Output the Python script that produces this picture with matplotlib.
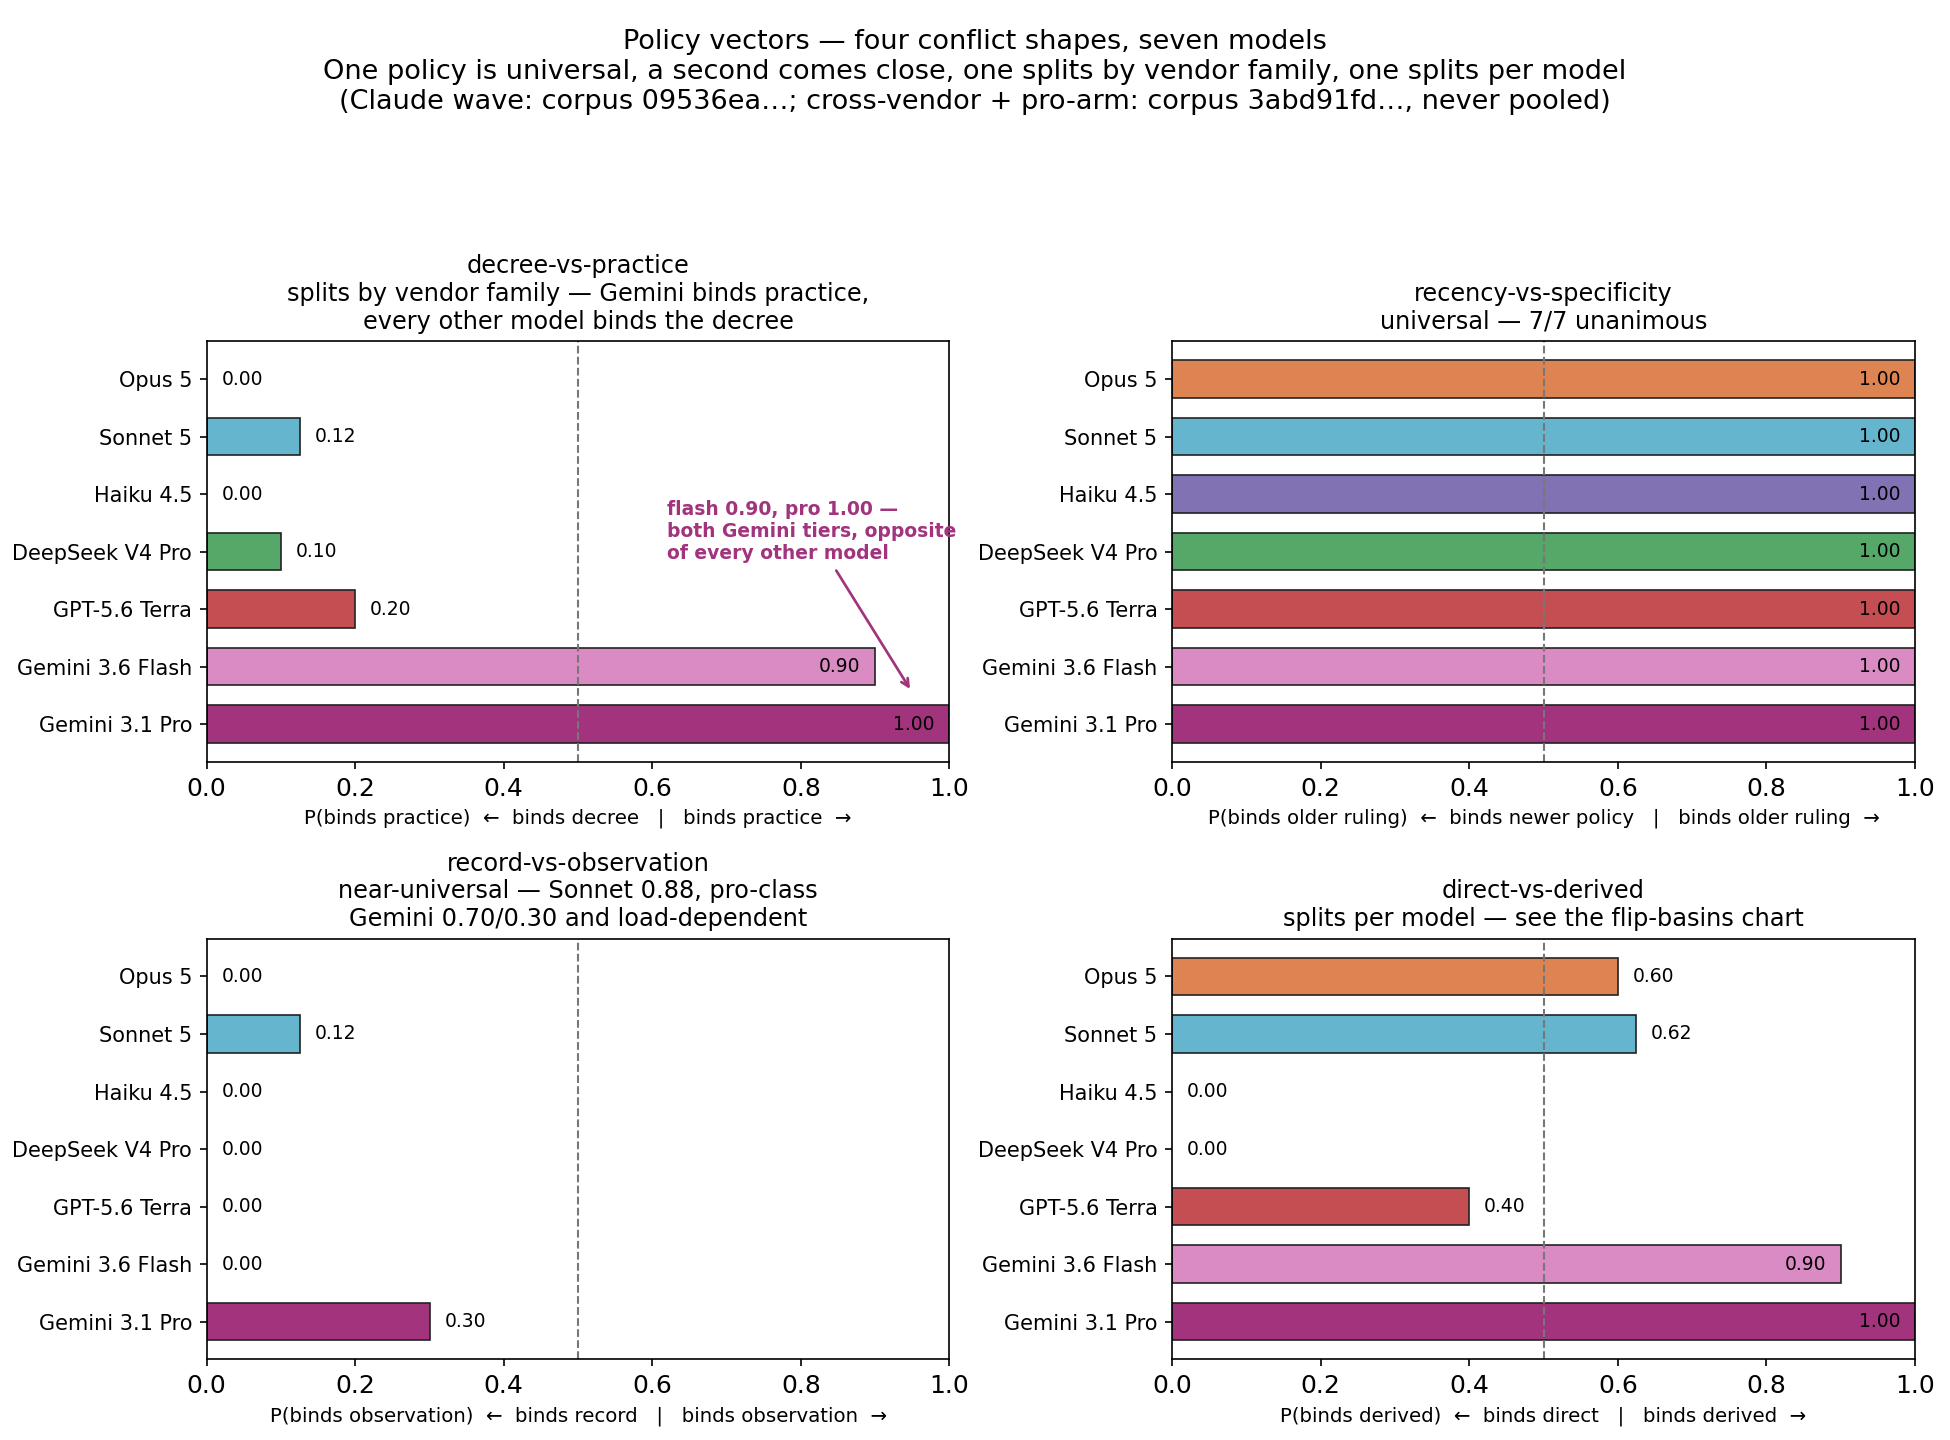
import matplotlib
matplotlib.use("Agg")
import matplotlib.pyplot as plt

models = ["Opus 5", "Sonnet 5", "Haiku 4.5", "DeepSeek V4 Pro", "GPT-5.6 Terra", "Gemini 3.6 Flash", "Gemini 3.1 Pro"]
colors = ["#dd8452", "#64b5cd", "#8172b3", "#55a868", "#c44e52", "#da8bc3", "#a2337d"]

decree_practice = [0.00, 0.125, 0.00, 0.10, 0.20, 0.90, 1.00]
recency_specificity = [1.00, 1.00, 1.00, 1.00, 1.00, 1.00, 1.00]
record_observation = [0.00, 0.125, 0.00, 0.00, 0.00, 0.00, 0.30]
direct_derived = [0.60, 0.625, 0.00, 0.00, 0.40, 0.90, 1.00]

panels = [
    ("decree-vs-practice\nsplits by vendor family — Gemini binds practice,\nevery other model binds the decree",
     decree_practice, "P(binds practice)  ←  binds decree   |   binds practice  →"),
    ("recency-vs-specificity\nuniversal — 7/7 unanimous",
     recency_specificity, "P(binds older ruling)  ←  binds newer policy   |   binds older ruling  →"),
    ("record-vs-observation\nnear-universal — Sonnet 0.88, pro-class\nGemini 0.70/0.30 and load-dependent",
     record_observation, "P(binds observation)  ←  binds record   |   binds observation  →"),
    ("direct-vs-derived\nsplits per model — see the flip-basins chart",
     direct_derived, "P(binds derived)  ←  binds direct   |   binds derived  →"),
]

fig, axes = plt.subplots(2, 2, figsize=(13, 9.6), dpi=150)
fig.subplots_adjust(left=0.106, right=0.982, top=0.763, bottom=0.056, wspace=0.3, hspace=0.42)

for ax, (title, vals, xlabel) in zip(axes.flat, panels):
    y = list(range(len(models)))
    ax.barh(y, vals, height=0.65, color=colors,
            edgecolor=["#222222" if v > 0 else "none" for v in vals], linewidth=0.8)
    for yi, v in zip(y, vals):
        if v >= 0.85:
            ax.text(v - 0.02, yi, f"{v:.2f}", ha="right", va="center", fontsize=9)
        else:
            ax.text(v + 0.02, yi, f"{v:.2f}", ha="left", va="center", fontsize=9)
    ax.axvline(0.5, color="#777777", linestyle="--", linewidth=1)
    ax.set_yticks(y)
    ax.set_yticklabels(models, fontsize=10)
    ax.invert_yaxis()
    ax.set_xlim(0, 1)
    ax.tick_params(axis="x", labelsize=12)
    ax.set_xlabel(xlabel, fontsize=9.5)
    ax.set_title(title, fontsize=11.5)

axes[0, 0].annotate("flash 0.90, pro 1.00 —\nboth Gemini tiers, opposite\nof every other model",
                    xy=(0.95, 5.45), xytext=(0.62, 2.1), color="#a2337d",
                    fontsize=9, fontweight="bold", ha="left", va="top",
                    arrowprops=dict(arrowstyle="->", color="#a2337d", lw=1.3))

fig.suptitle("Policy vectors — four conflict shapes, seven models\n"
             "One policy is universal, a second comes close, one splits by vendor family, one splits per model\n"
             "(Claude wave: corpus 09536ea…; cross-vendor + pro-arm: corpus 3abd91fd…, never pooled)",
             fontsize=13, y=0.98)

fig.savefig("out.png", dpi=150)
